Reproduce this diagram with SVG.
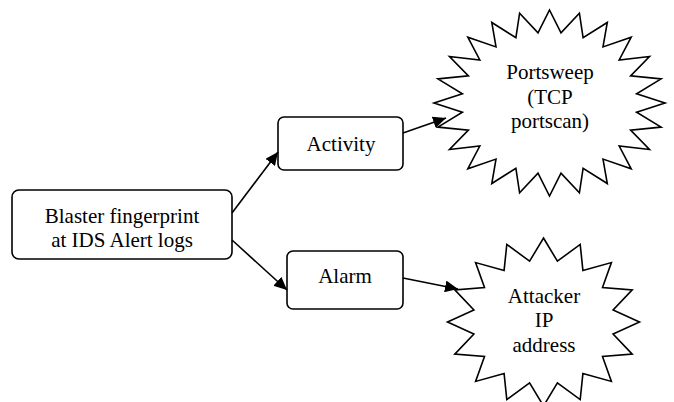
<svg xmlns="http://www.w3.org/2000/svg" width="674" height="402" viewBox="0 0 674 402">
<style>
.box{fill:#fff;stroke:#000;stroke-width:1.6}
.star{fill:#fff;stroke:#000;stroke-width:1.6;stroke-linejoin:miter}
.c{fill:none;stroke:#000;stroke-width:1.6}
</style>
<defs>
<marker id="ah" markerUnits="userSpaceOnUse" markerWidth="14" markerHeight="12" refX="13" refY="6" orient="auto">
<path d="M0,0 L13,6 L0,12 Z" fill="#000"/>
</marker>
</defs>
<rect width="674" height="402" fill="#fff"/>
<g font-family="Liberation Serif, DejaVu Serif, serif" font-size="21" fill="#000" text-anchor="middle">
<g id="blaster">
<rect class="box" x="12" y="190" width="220" height="69" rx="7"/>
<text x="122" y="222.5">Blaster fingerprint</text>
<text x="122" y="246.5">at IDS Alert logs</text>
</g>
<g id="activity">
<rect class="box" x="278" y="117" width="125" height="53" rx="6"/>
<text x="341" y="150.5">Activity</text>
</g>
<g id="alarm">
<rect class="box" x="287" y="251" width="116" height="58" rx="6"/>
<text x="345" y="282.5">Alarm</text>
</g>
<g id="portsweep">
<polygon class="star" points="549.5,10 561.0,32.9 579.4,13.2 583.1,37.7 607.3,22.5 603.0,46.9 631.2,37.2 619.2,60.0 649.5,56.5 630.6,75.9 661.1,78.9 636.6,93.8 665,103 636.6,112.2 661.1,127.1 630.6,130.1 649.5,149.5 619.2,146.0 631.2,168.8 603.0,159.1 607.3,183.5 583.1,168.3 579.4,192.8 561.0,173.1 549.5,196 538.0,173.1 519.6,192.8 515.9,168.3 491.8,183.5 496.0,159.1 467.8,168.8 479.8,146.0 449.5,149.5 468.4,130.1 437.9,127.1 462.4,112.2 434,103 462.4,93.8 437.9,78.9 468.4,75.9 449.5,56.5 479.8,60.0 467.8,37.2 496.0,46.9 491.8,22.5 515.9,37.7 519.6,13.2 538.0,32.9"/>
<text x="550" y="79">Portsweep</text>
<text x="550" y="103.5">(TCP</text>
<text x="550" y="128">portscan)</text>
</g>
<g id="attacker">
<polygon class="star" points="543.5,238 557.4,261.2 580.2,244.4 582.9,270.4 611.4,262.6 602.5,287.6 632.2,289.9 613.1,309.9 639.5,322 613.1,334.1 632.2,354.1 602.5,356.4 611.4,381.4 582.9,373.6 580.2,399.6 557.4,382.8 543.5,406 529.6,382.8 506.8,399.6 504.1,373.6 475.6,381.4 484.5,356.4 454.8,354.1 473.9,334.1 447.5,322 473.9,309.9 454.8,289.9 484.5,287.6 475.6,262.6 504.1,270.4 506.8,244.4 529.6,261.2"/>
<text x="544" y="303">Attacker</text>
<text x="544" y="327">IP</text>
<text x="544" y="352">address</text>
</g>
</g>
<g id="connectors">
<line class="c" x1="232" y1="213" x2="278" y2="152" marker-end="url(#ah)"/>
<line class="c" x1="232" y1="240" x2="287" y2="290" marker-end="url(#ah)"/>
<line class="c" x1="403" y1="133" x2="446" y2="118" marker-end="url(#ah)"/>
<line class="c" x1="403" y1="278" x2="458" y2="289" marker-end="url(#ah)"/>
</g>
</svg>
